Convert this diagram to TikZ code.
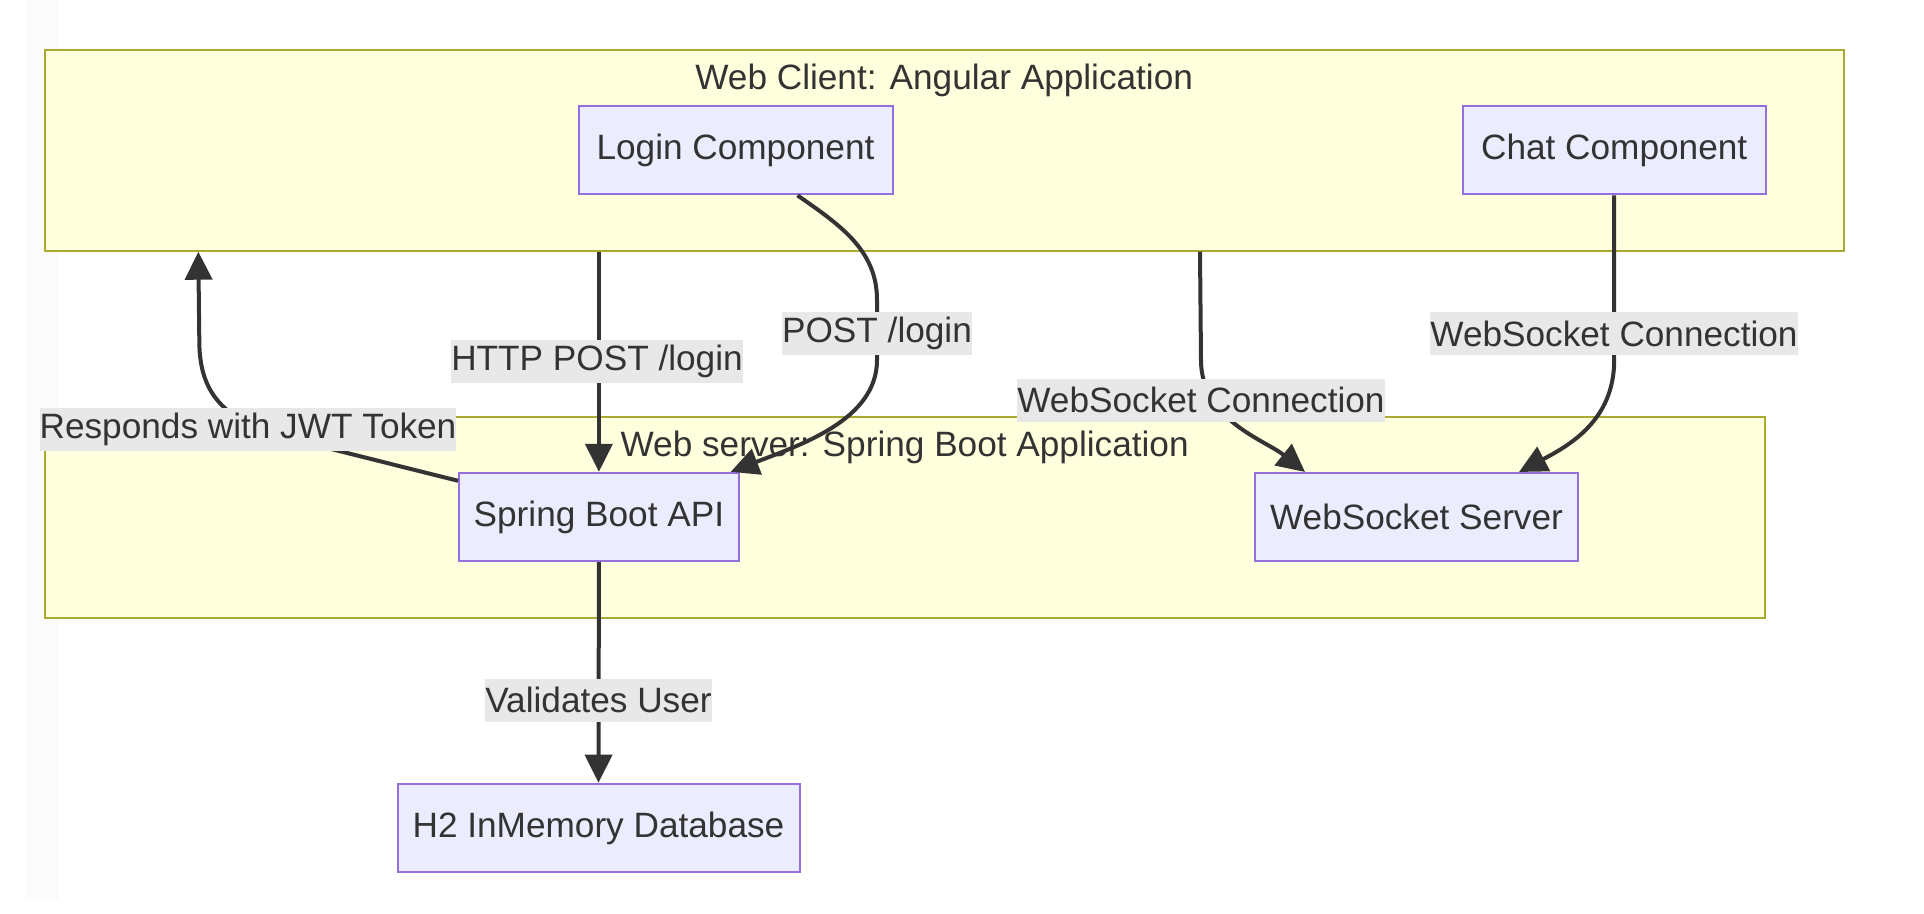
\documentclass[tikz,border=0pt]{standalone}
\usepackage{fontspec}
\setmainfont{Liberation Sans}
\usetikzlibrary{arrows.meta,calc}
\definecolor{clusterfill}{HTML}{FFFFDE}
\definecolor{clusterline}{HTML}{AAAA33}
\definecolor{nodefill}{HTML}{ECECFF}
\definecolor{nodeline}{HTML}{9370DB}
\definecolor{edgecol}{HTML}{333333}
\definecolor{lblfill}{HTML}{E8E8E8}
\definecolor{stripfill}{HTML}{FBFBFB}
\begin{document}
\begin{tikzpicture}[x=0.5pt,y=-0.5pt,>={Triangle[length=14pt,width=13.5pt]},
		font=\fontsize{17.6}{21}\selectfont,text=edgecol,
		cluster/.style={draw=clusterline,fill=clusterfill,line width=1pt,inner sep=0pt},
		comp/.style={draw=nodeline,fill=nodefill,line width=1pt,inner sep=0pt,minimum height=44.2pt},
		edge/.style={draw=edgecol,line width=2pt,->},
		lbl/.style={fill=lblfill,inner xsep=0pt,inner ysep=0pt,minimum height=21.5pt}]
		\useasboundingbox (0,0) rectangle (1924,914);
		\fill[stripfill] (26,0) rectangle (59,899);
		% subgraphs
		\node[cluster,minimum width=899.4pt,minimum height=100.35pt] (client) at (944.2,150.35) {};
		\node[anchor=base] (clienttitle) at (944.2,90) {Web Client: Angular Application};
		\node[cluster,minimum width=859.85pt,minimum height=100.5pt] (server) at (904.65,517.2) {};
		\node[anchor=base] (servertitle) at (904.65,457) {Web server: Spring Boot Application};
		% components
		\node[comp,minimum width=157pt] (login) at (735.5,150.2) {Login Component};
		\node[comp,minimum width=151.5pt] (chat) at (1614.2,150.2) {Chat Component};
		\node[comp,minimum width=139.85pt] (spring) at (598.9,517) {Spring Boot API};
		\node[comp,minimum width=161.5pt] (wss) at (1416.5,517.2) {WebSocket Server};
		\node[comp,minimum width=201pt] (h2) at (598.5,827.9) {H2 InMemory Database};
		% links
		\draw[edge] (spring.north |- client.south) -- (spring.north);
		\draw[edge] ($(login.south)+(62,0)$) .. controls (840,225) and (877,250) .. (877,300) -- (877,360) .. controls (877,420) and (800,445) .. ($(spring.north east)+(-9,0)$);
		\draw[edge] ($(spring.north west)+(0,9)$) -- (290,438.7) .. controls (215,420) and (199.3,385) .. (199.3,340) -- ($(client.south west)+(154.5,0)$);
		\draw[edge] ($(client.south west)+(1156.2,0)$) -- (1201,360) .. controls (1201,420) and (1265,440) .. ($(wss.north west)+(51,0)$);
		\draw[edge] (chat.south) -- (1614.2,360) .. controls (1614.2,420) and (1570,445) .. ($(wss.north east)+(-60,0)$);
		\draw[edge] (spring.south) -- (h2.north);
		% link labels
		\node[lbl] (httplbl) at (597,361.7) {HTTP POST /login};
		\node[lbl] (postlbl) at (877,333.5) {POST /login};
		\node[lbl] (jwtlbl) at (248,429.5) {Responds with JWT Token};
		\node[lbl] (wslbl) at (1201,400.2) {WebSocket Connection};
		\node[lbl] (chatlbl) at (1614,333.5) {WebSocket Connection};
		\node[lbl] (validlbl) at (598.5,700.3) {Validates User};
\end{tikzpicture}
\end{document}
